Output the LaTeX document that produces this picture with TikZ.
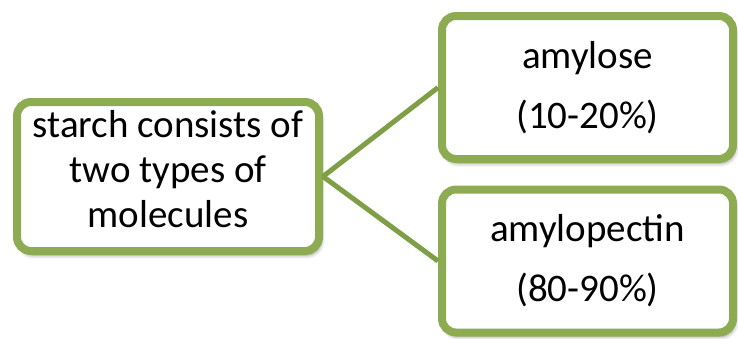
\documentclass[tikz,border=0pt]{standalone}
\usepackage{fontspec}
\setmainfont{Carlito}
\usepackage{xcolor}
\usetikzlibrary{positioning,shadows.blur}

\definecolor{boxgreen}{HTML}{8DAC51}
\definecolor{linegreen}{HTML}{7F9F46}

\begin{document}
\begin{tikzpicture}[x=1pt,y=1pt,
    box/.style={draw=boxgreen,line width=8pt,fill=white,rounded corners=14pt,align=center,
        blur shadow={shadow xshift=2pt,shadow yshift=-4pt,shadow blur radius=4pt,shadow opacity=45}},
    link/.style={draw=linegreen,line width=5pt}]

    \useasboundingbox (0,0) rectangle (738,-338);

    % The boxes
	\node [box,minimum width=302pt,minimum height=149pt] at (168,-176.5) (starch) {};
	\node [align=center,font=\fontsize{39}{45}\selectfont] at ([yshift=7pt]starch.center) (starchtxt)
	    {starch consists of\\two types of\\molecules};

	\node [box,minimum width=291pt,minimum height=143pt,font=\fontsize{39}{60}\selectfont]
	    at (587.5,-87.5) (amylose) {amylose\\(10-20\%)};
	\node [box,minimum width=291pt,minimum height=143pt,font=\fontsize{39}{60}\selectfont]
	    at (587.5,-261) (amylopectin) {amylopectin\\(80-90\%)};

	% Connectors
	\path[link]
	(starch.east) edge (amylose.west)
	(starch.east) edge (amylopectin.west);

\end{tikzpicture}
\end{document}
